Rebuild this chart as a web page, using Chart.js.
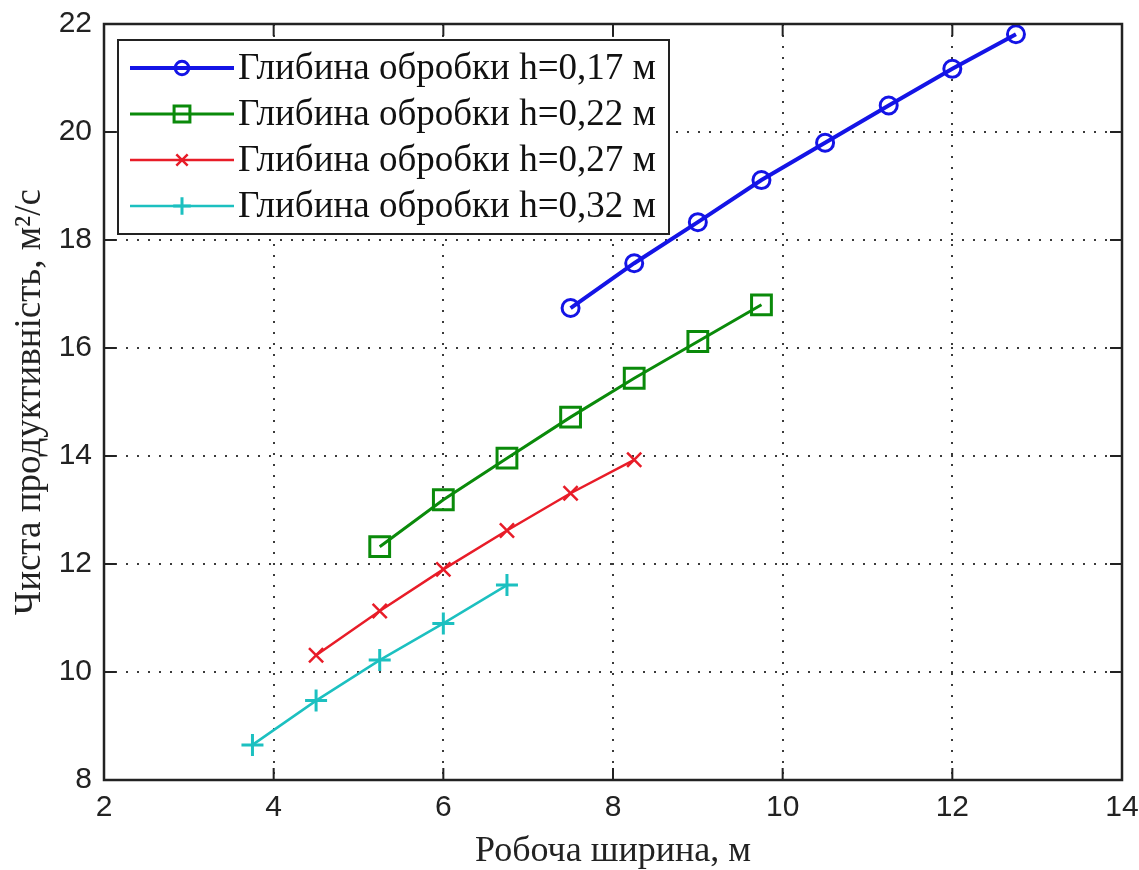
<!DOCTYPE html>
<html>
<head>
<meta charset="utf-8">
<script src="https://cdn.jsdelivr.net/npm/chart.js@4/dist/chart.umd.min.js"></script>
<style>
  body { margin: 0; background: #fff; }
  canvas { display: block; }
</style>
</head>
<body>
<canvas id="chart" width="1139" height="870"></canvas>
<script>
// Робоча ширина, м (x) and чиста продуктивність, м2/с (y) for each depth
const widthH017 = [7.5, 8.25, 9, 9.75, 10.5, 11.25, 12, 12.75];
const prodH017 = [16.74, 17.57, 18.33, 19.11, 19.80, 20.49, 21.17, 21.81];

const widthH022 = [5.25, 6, 6.75, 7.5, 8.25, 9, 9.75];
const prodH022 = [12.32, 13.19, 13.96, 14.72, 15.44, 16.12, 16.80];

const widthH027 = [4.5, 5.25, 6, 6.75, 7.5, 8.25];
const prodH027 = [10.31, 11.13, 11.90, 12.62, 13.31, 13.93];

const widthH032 = [3.75, 4.5, 5.25, 6, 6.75];
const prodH032 = [8.65, 9.47, 10.22, 10.90, 11.61];

const seriesLabels = [
    'Глибина обробки h=0,17 м',
    'Глибина обробки h=0,22 м',
    'Глибина обробки h=0,27 м',
    'Глибина обробки h=0,32 м'
];

const xTitle = 'Робоча ширина, м';
const yTitle = 'Чиста продуктивність, м²/с';

const serif = '"Liberation Serif", "Times New Roman", serif';
const sans = '"Liberation Sans", Arial, sans-serif';

const toPoints = (xs, ys) => xs.map((x, i) => ({ x: x, y: ys[i] }));

function drawMarker(ctx, style, x, y, r) {
    ctx.beginPath();
    if (style === 'circle') {
        ctx.arc(x, y, r, 0, Math.PI * 2);
    } else if (style === 'rect') {
        const s = r * Math.SQRT1_2;
        ctx.rect(x - s, y - s, 2 * s, 2 * s);
    } else if (style === 'crossRot') {
        const s = r * Math.SQRT1_2;
        ctx.moveTo(x - s, y - s); ctx.lineTo(x + s, y + s);
        ctx.moveTo(x - s, y + s); ctx.lineTo(x + s, y - s);
    } else if (style === 'cross') {
        ctx.moveTo(x - r, y); ctx.lineTo(x + r, y);
        ctx.moveTo(x, y - r); ctx.lineTo(x, y + r);
    }
    ctx.stroke();
}

// MATLAB-like legend box in the upper left of the axes
const boxLegend = {
    id: 'boxLegend',
    afterDatasetsDraw(chart) {
        const ctx = chart.ctx;
        const area = chart.chartArea;
        const left = area.left + 14;
        const top = area.top + 16;
        const w = 551;
        const h = 194;
        ctx.save();
        ctx.fillStyle = '#fff';
        ctx.fillRect(left, top, w, h);
        ctx.strokeStyle = '#222';
        ctx.lineWidth = 2;
        ctx.strokeRect(left, top, w, h);

        chart.data.datasets.forEach((ds, i) => {
            const y = top + 28 + i * 46;
            ctx.strokeStyle = ds.borderColor;
            ctx.lineWidth = ds.borderWidth;
            ctx.beginPath();
            ctx.moveTo(left + 12, y);
            ctx.lineTo(left + 116, y);
            ctx.stroke();
            ctx.lineWidth = ds.pointBorderWidth;
            drawMarker(ctx, ds.pointStyle, left + 64, y, ds.pointRadius * 0.8);

            ctx.fillStyle = '#111';
            ctx.font = '37px ' + serif;
            ctx.textBaseline = 'middle';
            ctx.textAlign = 'left';
            ctx.fillText(ds.label, left + 120, y + 1);
        });
        ctx.restore();
    }
};

// solid axes box with inward tick marks on all four sides
const axesBox = {
    id: 'axesBox',
    afterDraw(chart) {
        const ctx = chart.ctx;
        const { left, right, top, bottom } = chart.chartArea;
        const xs = chart.scales.x;
        const ys = chart.scales.y;
        const len = 12;
        ctx.save();
        ctx.strokeStyle = '#222';
        ctx.lineWidth = 2;
        ctx.beginPath();
        xs.ticks.forEach(t => {
            const px = xs.getPixelForValue(t.value);
            ctx.moveTo(px, bottom); ctx.lineTo(px, bottom - len);
            ctx.moveTo(px, top); ctx.lineTo(px, top + len);
        });
        ys.ticks.forEach(t => {
            const py = ys.getPixelForValue(t.value);
            ctx.moveTo(left, py); ctx.lineTo(left + len, py);
            ctx.moveTo(right, py); ctx.lineTo(right - len, py);
        });
        ctx.stroke();
        ctx.lineWidth = 2.5;
        ctx.strokeRect(left, top, right - left, bottom - top);
        ctx.restore();
    }
};

const ctx = document.getElementById('chart').getContext('2d');
new Chart(ctx, {
    type: 'line',
    data: {
        datasets: [
            {
                label: seriesLabels[0],
                data: toPoints(widthH017, prodH017),
                borderColor: '#1414e6',
                borderWidth: 4,
                pointStyle: 'circle',
                pointRadius: 8.5,
                pointBorderWidth: 3,
                pointBackgroundColor: 'rgba(0,0,0,0)',
                pointBorderColor: '#1414e6'
            },
            {
                label: seriesLabels[1],
                data: toPoints(widthH022, prodH022),
                borderColor: '#0a8a0a',
                borderWidth: 3,
                pointStyle: 'rect',
                pointRadius: 14,
                pointBorderWidth: 3,
                pointBackgroundColor: 'rgba(0,0,0,0)',
                pointBorderColor: '#0a8a0a'
            },
            {
                label: seriesLabels[2],
                data: toPoints(widthH027, prodH027),
                borderColor: '#e81c28',
                borderWidth: 2.5,
                pointStyle: 'crossRot',
                pointRadius: 10,
                pointBorderWidth: 2.5,
                pointBorderColor: '#e81c28'
            },
            {
                label: seriesLabels[3],
                data: toPoints(widthH032, prodH032),
                borderColor: '#1cc0c0',
                borderWidth: 2.5,
                pointStyle: 'cross',
                pointRadius: 11,
                pointBorderWidth: 3,
                pointBorderColor: '#1cc0c0'
            }
        ]
    },
    options: {
        responsive: false,
        animation: false,
        events: [],
        clip: false,
        layout: { padding: { top: 24, right: 16, left: 0, bottom: 0 } },
        elements: { line: { tension: 0 } },
        plugins: {
            legend: { display: false },
            tooltip: { enabled: false }
        },
        scales: {
            x: {
                type: 'linear',
                min: 2,
                max: 14,
                afterFit: s => { s.height = 90; s.paddingLeft = 0; s.paddingRight = 0; },
                ticks: {
                    stepSize: 2,
                    padding: 10,
                    color: '#222',
                    font: { family: sans, size: 30 }
                },
                grid: { color: '#3a3a3a', lineWidth: 2, drawTicks: false },
                border: { display: false, dash: [2, 9] },
                title: {
                    display: true,
                    text: xTitle,
                    color: '#222',
                    padding: 0,
                    font: { family: serif, size: 36, lineHeight: 1 }
                }
            },
            y: {
                type: 'linear',
                min: 8,
                max: 22,
                afterFit: s => { s.width = 104; s.paddingTop = 0; s.paddingBottom = 0; },
                ticks: {
                    stepSize: 2,
                    padding: 12,
                    color: '#222',
                    font: { family: sans, size: 30 }
                },
                grid: { color: '#3a3a3a', lineWidth: 2, drawTicks: false },
                border: { display: false, dash: [2, 9] },
                title: {
                    display: true,
                    text: yTitle,
                    color: '#222',
                    padding: { top: 12 },
                    font: { family: serif, size: 37, lineHeight: 1 }
                }
            }
        }
    },
    plugins: [boxLegend, axesBox]
});
</script>
</body>
</html>
